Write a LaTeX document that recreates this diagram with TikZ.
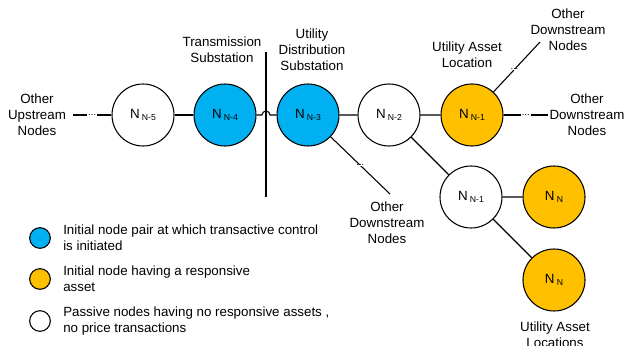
\documentclass[tikz,border=0pt]{standalone}
\usepackage{fontspec}
\setmainfont{Liberation Sans}
\definecolor{initblue}{HTML}{00B0F0}
\definecolor{assetorange}{HTML}{FFC000}
\newcommand{\nsub}[1]{N\,\raisebox{-1.2pt}{\fontsize{6.5}{7}\selectfont #1}}
\tikzset{
  bus/.style={circle,draw,line width=.8pt,minimum size=46.5pt,inner sep=0pt,font=\fontsize{10}{12}\selectfont},
  passive/.style={bus,fill=white},
  initiator/.style={bus,fill=initblue},
  responsive/.style={bus,fill=assetorange},
  keydot/.style={circle,draw,line width=.8pt,minimum size=15.5pt,inner sep=0pt},
  caption/.style={align=center,font=\fontsize{10}{12}\selectfont,inner sep=0pt},
  keytext/.style={align=left,anchor=west,font=\fontsize{10}{12}\selectfont,inner sep=0pt},
  dots/.style={fill=white,inner xsep=.8pt,inner ysep=.3pt,font=\fontsize{7}{7}\selectfont},
  wire/.style={line width=.8pt}
}
\begin{document}
\begin{tikzpicture}[x=.75pt,y=-.75pt]
  \useasboundingbox (0,0) rectangle (625,346);
  % substation boundary
  \draw[wire] (266,52) coordinate (bt) -- (266,197) coordinate (bb);
  % buses
  \node[passive]    (n5)  at (143,115) {\nsub{N-5}};
  \node[initiator]  (n4)  at (225,115) {\nsub{N-4}};
  \node[initiator]  (n3)  at (308,115) {\nsub{N-3}};
  \node[passive]    (n2)  at (389,115) {\nsub{N-2}};
  \node[responsive] (n1)  at (472,115) {\nsub{N-1}};
  \node[passive]    (m1)  at (471,197) {\nsub{N-1}};
  \node[responsive] (nna) at (554,197) {\nsub{N}};
  \node[responsive] (nnb) at (554,280) {\nsub{N}};
  % free ends
  \path (73,115) coordinate (up)
        (390,194) coordinate (dsa)
        (540,42) coordinate (dsb)
        (548,115) coordinate (dsc)
        (262,115) coordinate (hopa) (270,115) coordinate (hopb);
  % connectors
  \draw[wire] (up) -- node[dots]{...} (n5);
  \draw[wire] (n5) -- (n4);
  \draw[wire] (n4) -- (hopa) arc[start angle=180,end angle=360,radius=4] -- (n3);
  \draw[wire] (n3) -- (n2) (n2) -- (n1) (n2) -- (m1) (m1) -- (nna) (m1) -- (nnb);
  \draw[wire] (n3) -- node[dots]{...} (dsa);
  \draw[wire] (n1) -- node[dots,pos=.45]{...} (dsb);
  \draw[wire] (n1) -- node[dots]{...} (dsc);
  % captions
  \node[caption] (cup)  at (37,115)  {Other\\Upstream\\Nodes};
  \node[caption] (ctr)  at (222,50)  {Transmission\\Substation};
  \node[caption] (cds)  at (312,50)  {Utility\\Distribution\\Substation};
  \node[caption] (cal)  at (467,55)  {Utility Asset\\Location};
  \node[caption] (codb) at (568,30)  {Other\\Downstream\\Nodes};
  \node[caption] (codc) at (587,115) {Other\\Downstream\\Nodes};
  \node[caption] (coda) at (387,223) {Other\\Downstream\\Nodes};
  \node[caption] (cals) at (555,335) {Utility Asset\\Locations};
  % key
  \foreach \k/\s/\y/\t in {a/initblue/238/{Initial node pair at which transactive control\\is initiated},
                           b/assetorange/279/{Initial node having a responsive\\asset},
                           c/white/321/{Passive nodes having no responsive assets ,\\no price transactions}}
    \node[keydot,fill=\s] (key\k) at (40,\y) {} node[keytext] (keytext\k) at (63,\y) {\t};
\end{tikzpicture}
\end{document}
